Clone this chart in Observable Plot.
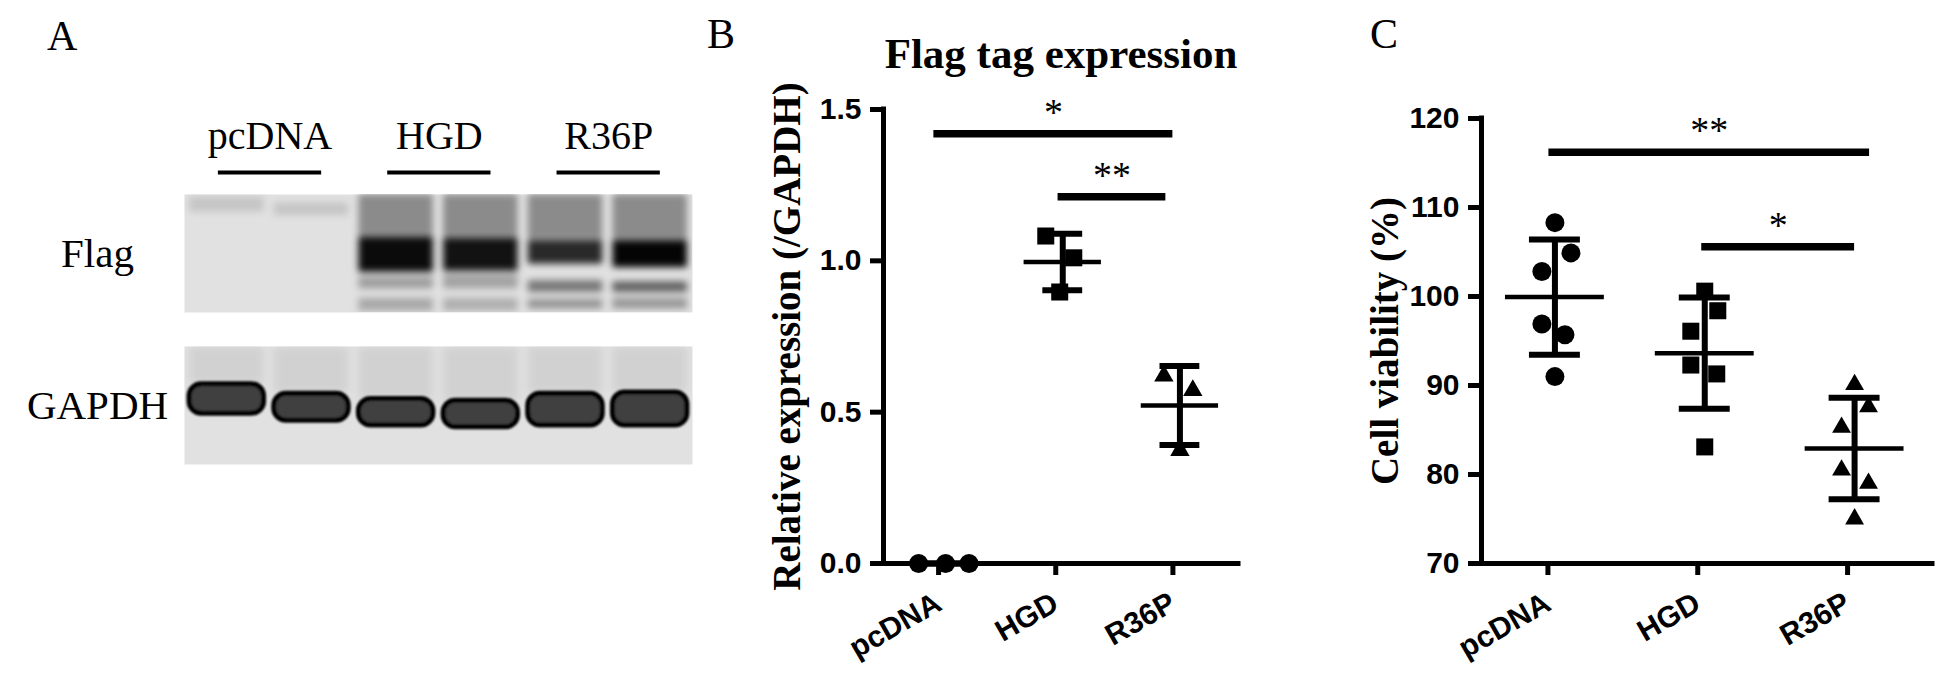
<!DOCTYPE html>
<html>
<head>
<meta charset="utf-8">
<script src="https://cdn.jsdelivr.net/npm/d3@7"></script>
<script src="https://cdn.jsdelivr.net/npm/@observablehq/plot@0.6"></script>
<style>
  body { margin: 0; background: #fff; }
  #fig { position: relative; width: 1952px; height: 685px; overflow: hidden; background: #fff; }
  .panel { position: absolute; top: 0; }
  .plab { position: absolute; font-family: "Liberation Serif", "Times New Roman", serif; font-size: 42px; line-height: 1; color: #000; }
</style>
</head>
<body>
<div id="fig"></div>
<script>
// ---------------- data ----------------
const groups = ["pcDNA", "HGD", "R36P"];

// Panel A: western blot (lane numbers, relative migration 0 = top of strip .. 1 = bottom, band density 0..1)
const blotRows = ["Flag", "GAPDH"];
const laneGroupNames = ["pcDNA", "HGD", "R36P"];
const laneGroupFirst = [1, 3, 5];
const laneGroupLast = [2, 4, 6];

const flagLane    = [1,    2,    3,    3,    3,    3,    4,    4,    4,    4,    5,    5,    5,    5,    6,    6,    6,    6];
const flagTop     = [0.02, 0.07, 0.00, 0.36, 0.70, 0.88, 0.00, 0.37, 0.68, 0.88, 0.00, 0.39, 0.73, 0.89, 0.00, 0.39, 0.74, 0.88];
const flagBottom  = [0.15, 0.18, 0.35, 0.66, 0.80, 0.99, 0.36, 0.65, 0.80, 0.99, 0.38, 0.59, 0.83, 0.97, 0.38, 0.62, 0.83, 0.97];
const flagDensity = [0.12, 0.12, 0.38, 0.95, 0.30, 0.25, 0.38, 0.92, 0.28, 0.22, 0.38, 0.82, 0.47, 0.35, 0.38, 0.98, 0.57, 0.33];

const gapdhLane   = [1,    2,    3,     4,     5,    6];
const gapdhTop    = [0.32, 0.40, 0.445, 0.46,  0.40, 0.39];
const gapdhBottom = [0.57, 0.63, 0.67,  0.685, 0.67, 0.67];

// Panel B: Flag tag expression (relative to GAPDH)
const bGroup  = ["pcDNA", "pcDNA", "pcDNA", "HGD", "HGD", "HGD", "R36P", "R36P", "R36P"];
const bValue  = [0, 0, 0, 1.082, 1.010, 0.897, 0.620, 0.572, 0.374];
const bJitter = [-0.23, 0, 0.20, -0.145, 0.094, -0.026, -0.137, 0.11, 0];
const bCompX1 = [-0.10, 0.96];
const bCompX2 = [1.94, 1.88];
const bCompY  = [1.42, 1.212];
const bCompLabel = ["*", "**"];

// Panel C: cell viability (%)
const cGroup  = ["pcDNA","pcDNA","pcDNA","pcDNA","pcDNA","pcDNA","HGD","HGD","HGD","HGD","HGD","HGD","R36P","R36P","R36P","R36P","R36P","R36P"];
const cValue  = [108.3, 104.9, 102.8, 96.9, 95.7, 91.0, 100.6, 98.4, 96.1, 92.3, 91.3, 83.1, 90.1, 87.6, 85.3, 80.5, 79.0, 75.0];
const cJitter = [0, 0.107, -0.087, -0.087, 0.067, 0, 0, 0.087, -0.093, -0.093, 0.08, 0, 0, 0.093, -0.087, -0.087, 0.093, 0];
const cCompX1 = [-0.04, 0.98];
const cCompX2 = [2.10, 2.00];
const cCompY  = [116.2, 105.6];
const cCompLabel = ["**", "*"];

// ---------------- helpers ----------------
const SERIF = "'Liberation Serif', 'Times New Roman', serif";
const SANS = "'Liberation Sans', Arial, sans-serif";
const fig = document.getElementById("fig");

function place(node, left, width) {
  const d = document.createElement("div");
  d.className = "panel";
  d.style.left = left + "px";
  d.style.width = width + "px";
  d.appendChild(node);
  fig.appendChild(d);
}
function panelLabel(text, left, top) {
  const d = document.createElement("div");
  d.className = "plab";
  d.textContent = text;
  d.style.left = left + "px";
  d.style.top = top + "px";
  fig.appendChild(d);
}
// blur every mark group of the svg whose constant fill is the given colour
function blurByFill(svg, fill, sd, name) {
  const NS = "http://www.w3.org/2000/svg";
  const id = "blur-" + name;
  let defs = svg.querySelector(":scope > defs");
  if (!defs) { defs = document.createElementNS(NS, "defs"); svg.insertBefore(defs, svg.firstChild); }
  const filter = document.createElementNS(NS, "filter");
  filter.setAttribute("id", id);
  filter.setAttribute("x", "-30%"); filter.setAttribute("y", "-30%");
  filter.setAttribute("width", "160%"); filter.setAttribute("height", "160%");
  const fe = document.createElementNS(NS, "feGaussianBlur");
  fe.setAttribute("stdDeviation", sd);
  filter.appendChild(fe);
  defs.appendChild(filter);
  svg.querySelectorAll(`g[fill="${fill}"]`).forEach(g => g.setAttribute("filter", `url(#${id})`));
}

// ---------------- Panel A ----------------
const laneGroups = laneGroupNames.map((name, i) => ({name, first: laneGroupFirst[i], last: laneGroupLast[i]}));
const flagBands = flagLane.map((lane, i) => ({lane, top: flagTop[i], bottom: flagBottom[i], density: flagDensity[i]}));
const gapdhBands = gapdhLane.map((lane, i) => ({lane, top: gapdhTop[i], bottom: gapdhBottom[i]}));
const half = 0.44;

const plotA = Plot.plot({
  width: 700, height: 480,
  marginLeft: 184, marginRight: 8, marginTop: 194, marginBottom: 16,
  x: {domain: [0.5, 6.5], axis: null},
  y: {domain: [0, 1], reverse: true, axis: null},
  fy: {domain: blotRows, paddingInner: 0.224, paddingOuter: 0, axis: null},
  style: {background: "transparent", overflow: "visible", fontFamily: SERIF, color: "#000"},
  marks: [
    Plot.frame({fill: "#e1e1e1", stroke: "none"}),
    Plot.rect(gapdhBands, {fy: () => "GAPDH", x1: d => d.lane - half, x2: d => d.lane + half, y1: 0, y2: "top",
      fill: "#020202", fillOpacity: 0.07, clip: "frame"}),
    Plot.rect(flagBands, {fy: () => "Flag", x1: d => d.lane - half, x2: d => d.lane + half, y1: "top", y2: "bottom",
      fill: "#010101", fillOpacity: "density", clip: "frame"}),
    Plot.rect(gapdhBands, {fy: () => "GAPDH", x1: d => d.lane - half, x2: d => d.lane + half, y1: "top", y2: "bottom",
      fill: "#404040", stroke: "#000", strokeWidth: 5, rx: 12}),
    Plot.text(blotRows, {fy: d => d, text: d => d, frameAnchor: "left", dx: -87, textAnchor: "middle",
      fontSize: 41, fontFamily: SERIF}),
    Plot.ruleY(laneGroups, {fy: () => "Flag", y: 0, x1: d => d.first - 0.1, x2: d => d.last + 0.12, dy: -22, strokeWidth: 4}),
    Plot.text(laneGroups, {fy: () => "Flag", y: 0, x: d => (d.first + d.last) / 2 + 0.01, text: "name", lineAnchor: "bottom",
      dy: -46, fontSize: 40, fontFamily: SERIF})
  ]
});
blurByFill(plotA, "#010101", 3.8, "flag");
blurByFill(plotA, "#020202", 4, "smear");
blurByFill(plotA, "#404040", 1.2, "gapdh");
place(plotA, 0, 700);

// ---------------- scatter panels ----------------
function scatterPanel({points, comps, xDomain, yDomain, yTicks, yFormat, yTitle, title, width, height, margins, rTri}) {
  const summary = groups.map((g, i) => {
    const v = points.filter(d => d.group === g).map(d => d.value);
    const m = d3.mean(v), s = d3.deviation(v);
    return {i, mean: m, lo: m - s, hi: m + s};
  });
  const gi = d => groups.indexOf(d.group);
  const sym = ["circle", "square", "triangle"];
  const rad = [9.5, 9.6, rTri];
  const marks = [
    Plot.ruleX([xDomain[0]], {strokeWidth: 5, strokeLinecap: "square"}),
    Plot.ruleY([yDomain[0]], {strokeWidth: 5, strokeLinecap: "square"}),
    Plot.axisY({ticks: yTicks, tickFormat: yFormat, tickSize: 13, tickPadding: 9, fontSize: 30, fontWeight: "bold",
      fontFamily: SANS, strokeWidth: 5, label: null}),
    Plot.axisX({ticks: [0, 1, 2], tickFormat: i => groups[i], tickRotate: -30, tickSize: 12, tickPadding: 25,
      fontSize: 30, fontWeight: "bold", fontFamily: SANS, strokeWidth: 5, label: null, dx: -7}),
    ...groups.map((g, k) => Plot.dot(points.filter(d => d.group === g), {
      x: d => gi(d) + d.jitter, y: "value", symbol: sym[k], r: rad[k], fill: "#000", stroke: "none"})),
    Plot.ruleY(summary, {x1: d => d.i - 0.33, x2: d => d.i + 0.33, y: "mean", strokeWidth: 4.5}),
    Plot.ruleX(summary, {x: "i", y1: "lo", y2: "hi", strokeWidth: 6}),
    Plot.ruleY(summary, {x1: d => d.i - 0.17, x2: d => d.i + 0.17, y: "lo", strokeWidth: 6}),
    Plot.ruleY(summary, {x1: d => d.i - 0.17, x2: d => d.i + 0.17, y: "hi", strokeWidth: 6}),
    Plot.ruleY(comps, {x1: "x1", x2: "x2", y: "y", strokeWidth: 7.5}),
    Plot.text(comps, {x: d => (d.x1 + d.x2) / 2, y: "y", text: "label", dy: -21, fontSize: 38, fontFamily: SERIF}),
    Plot.text([yTitle], {frameAnchor: "left", textAnchor: "middle", rotate: -90, dx: -96, fontSize: 39, fontWeight: "bold", fontFamily: SERIF})
  ];
  if (title) marks.push(Plot.text([title], {frameAnchor: "top", textAnchor: "middle", dy: -72, fontSize: 43, fontWeight: "bold", fontFamily: SERIF}));
  return Plot.plot({
    width, height, ...margins,
    x: {domain: xDomain},
    y: {domain: yDomain},
    style: {background: "transparent", overflow: "visible", fontFamily: SANS, color: "#000"},
    marks
  });
}

const pointsB = bValue.map((value, i) => ({group: bGroup[i], value, jitter: bJitter[i]}));
const compsB = bCompY.map((y, i) => ({x1: bCompX1[i], x2: bCompX2[i], y, label: bCompLabel[i]}));
const plotB = scatterPanel({
  points: pointsB, comps: compsB,
  xDomain: [-0.53, 2.5], yDomain: [0, 1.5], yTicks: [0, 0.5, 1, 1.5], yFormat: d3.format(".1f"),
  yTitle: "Relative expression (/GAPDH)", title: "Flag tag expression",
  width: 560, height: 685, margins: {marginLeft: 183, marginRight: 22, marginTop: 109, marginBottom: 122}, rTri: 7.2
});
place(plotB, 700, 560);

const pointsC = cValue.map((value, i) => ({group: cGroup[i], value, jitter: cJitter[i]}));
const compsC = cCompY.map((y, i) => ({x1: cCompX1[i], x2: cCompX2[i], y, label: cCompLabel[i]}));
const plotC = scatterPanel({
  points: pointsC, comps: compsC,
  xDomain: [-0.49, 2.52], yDomain: [70, 120], yTicks: [70, 80, 90, 100, 110, 120], yFormat: d => String(d),
  yTitle: "Cell viability (%)", title: null,
  width: 652, height: 685, margins: {marginLeft: 181, marginRight: 20, marginTop: 118, marginBottom: 122}, rTri: 7.0
});
place(plotC, 1300, 652);

panelLabel("A", 47, 15);
panelLabel("B", 707, 13);
panelLabel("C", 1370, 13);
</script>
</body>
</html>
